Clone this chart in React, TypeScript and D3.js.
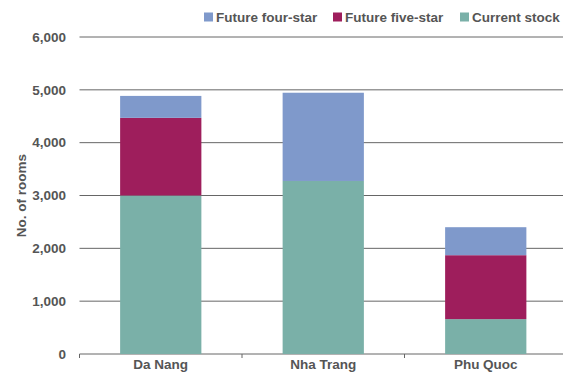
import React from "react";
import * as d3 from "d3";

const categories = ["Da Nang", "Nha Trang", "Phu Quoc"];
const currentStock = [3000, 3275, 660];
const futureFiveStar = [1470, 0, 1210];
const futureFourStar = [415, 1670, 530];
const yTicks = [0, 1000, 2000, 3000, 4000, 5000, 6000];
const seriesNames = ["Current stock", "Future five-star", "Future four-star"];
const colors = ["#7ab0a8", "#9e1e5c", "#7f99cb"];

export default function App() {
  const W = 563, H = 374;
  const left = 79.5, right = 567, top = 37, bottom = 354;
  const x = d3.scaleBand().domain(categories).range([left, right]).paddingInner(0.5).paddingOuter(0.25);
  const y = d3.scaleLinear().domain([0, 6000]).range([bottom, top]);
  const rows = categories.map((c, i) => ({ cat: c, s0: currentStock[i], s1: futureFiveStar[i], s2: futureFourStar[i] }));
  const stack = d3.stack<any>().keys(["s0", "s1", "s2"])(rows);
  const font = "Helvetica, Arial, 'Liberation Sans', sans-serif";
  const textColor = "#555";
  const legendOrder = [2, 1, 0];
  const legendX = [204, 333, 460];
  const step = x.step();
  return (
    <svg width={W} height={H} style={{ position: "absolute", left: 0, top: 0 }} fontFamily={font}>
      {yTicks.map((t) => (
        <g key={t}>
          <line x1={left} x2={W} y1={y(t)} y2={y(t)} stroke="#666" strokeWidth={1} />
          <text x={66} y={y(t)} dy="0.35em" textAnchor="end" fontSize={13.5} fontWeight="bold" fill={textColor}>
            {d3.format(",")(t)}
          </text>
        </g>
      ))}
      {[0, 1, 2, 3].map((i) => {
        const bx = (x(categories[0]) as number) - (step - x.bandwidth()) / 2 + i * step;
        return <line key={i} x1={bx} x2={bx} y1={bottom} y2={bottom + 4} stroke="#666" />;
      })}
      {stack.map((s, si) => (
        <g key={si} fill={colors[si]}>
          {s.map((d, i) =>
            d[1] - d[0] > 0 ? (
              <rect key={i} x={x(categories[i])} width={x.bandwidth()} y={y(d[1])} height={y(d[0]) - y(d[1])} />
            ) : null
          )}
        </g>
      ))}
      {categories.map((c) => (
        <text key={c} x={(x(c) as number) + x.bandwidth() / 2} y={369} textAnchor="middle" fontSize={13.5} fontWeight="bold" fill={textColor}>
          {c}
        </text>
      ))}
      <text transform={`translate(21,${(top + bottom) / 2}) rotate(-90)`} textAnchor="middle" dy="0.35em" fontSize={13.5} fontWeight="bold" fill={textColor}>
        No. of rooms
      </text>
      {legendOrder.map((si, k) => (
        <g key={si} transform={`translate(${legendX[k]},17)`}>
          <rect x={0} y={-4.5} width={9} height={9} fill={colors[si]} />
          <text x={12} y={0} dy="0.35em" fontSize={13.5} fontWeight="bold" fill={textColor}>
            {seriesNames[si]}
          </text>
        </g>
      ))}
    </svg>
  );
}
